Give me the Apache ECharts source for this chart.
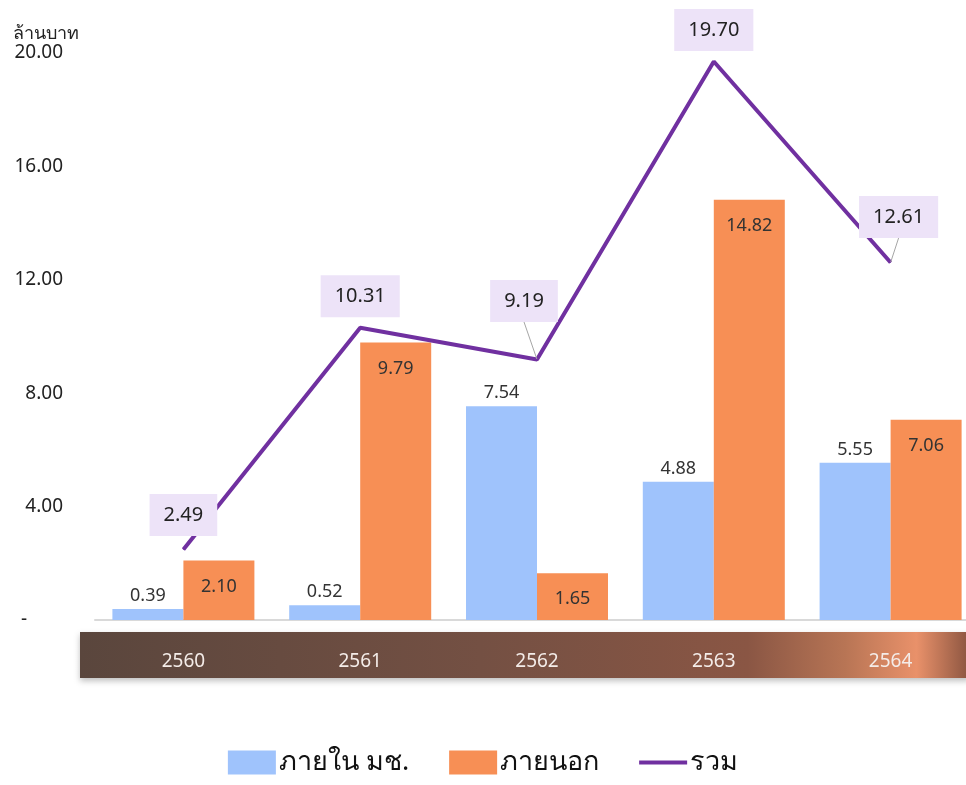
<!DOCTYPE html>
<html>
<head>
<meta charset="utf-8">
<script src="https://cdn.jsdelivr.net/npm/echarts@6/dist/echarts.min.js"></script>
<style>
  html, body { margin: 0; padding: 0; background: #ffffff; }
  #chart { width: 966px; height: 785px; }
</style>
</head>
<body>
<div id="chart"></div>
<script>
// Research funding by fiscal year (million baht)
const years = ['2560', '2561', '2562', '2563', '2564'];
const insideCMU = [0.39, 0.52, 7.54, 4.88, 5.55];   // ภายใน มช.
const outsideCMU = [2.10, 9.79, 1.65, 14.82, 7.06]; // ภายนอก
const totals = [2.49, 10.31, 9.19, 19.70, 12.61];   // รวม
const seriesNames = ['ภายใน มช.', 'ภายนอก', 'รวม'];
const unitLabel = 'ล้านบาท';

const FONT = '"Noto Sans", "DejaVu Sans", sans-serif';
const PURPLE = '#7030a0';

// nudges for the total labels that sit off-centre, with a guide line
const totalLabelShift = [[0, -3], [0, 0], [-13, -27], [0, 0], [8, -14]];
const guided = [false, false, true, false, true];

const chart = echarts.init(document.getElementById('chart'), null, { renderer: 'canvas' });

const option = {
  backgroundColor: '#ffffff',
  textStyle: { fontFamily: FONT },
  animation: false,
  title: {
    text: unitLabel,
    left: 8,
    top: 20,
    textStyle: { fontFamily: FONT, fontSize: 18, fontWeight: 'normal', color: '#222222' }
  },
  // the plot runs a little past the right edge of the canvas
  grid: { left: 95, width: 884, top: 53, bottom: 165, containLabel: false, outerBoundsMode: 'none' },
  graphic: [{
    type: 'rect',
    left: 80,
    top: 632,
    z: -1,
    shape: { width: 890, height: 46 },
    style: {
      fill: new echarts.graphic.LinearGradient(0, 0, 1, 0, [
        { offset: 0, color: '#5a463d' },
        { offset: 0.45, color: '#745043' },
        { offset: 0.75, color: '#8a5644' },
        { offset: 0.86, color: '#b87555' },
        { offset: 0.94, color: '#e9916a' },
        { offset: 1, color: '#8a5440' }
      ]),
      shadowBlur: 6,
      shadowOffsetY: 3,
      shadowColor: 'rgba(0,0,0,0.25)'
    }
  }],
  legend: {
    bottom: 4,
    left: 'center',
    itemWidth: 48,
    itemHeight: 24,
    itemGap: 40,
    textStyle: { fontFamily: FONT, fontSize: 27, color: '#111111', padding: [0, 0, 0, -2] },
    data: [
      { name: seriesNames[0], icon: 'rect' },
      { name: seriesNames[1], icon: 'rect' },
      { name: seriesNames[2], icon: 'path://M0,0 L48,0 L48,4 L0,4 Z', itemStyle: { color: PURPLE } }
    ]
  },
  xAxis: {
    type: 'category',
    data: years,
    axisLine: { show: true, lineStyle: { color: '#d9d9d9', width: 2 } },
    axisTick: { show: false },
    axisLabel: { margin: 32, fontSize: 19, color: '#f4ece8', fontFamily: FONT }
  },
  yAxis: {
    type: 'value',
    min: 0,
    max: 20,
    interval: 4,
    splitLine: { show: false },
    axisLine: { show: false },
    axisTick: { show: false },
    axisLabel: {
      margin: 32,
      fontSize: 19,
      color: '#222222',
      fontFamily: FONT,
      formatter: v => v === 0 ? '{z|-}' : v.toFixed(2),
      rich: { z: { fontSize: 19, color: '#222222', padding: [0, 36, 0, 0] } }
    }
  },
  series: [
    {
      name: seriesNames[0],
      type: 'bar',
      data: insideCMU,
      barWidth: 71,
      barGap: '0%',
      itemStyle: { color: '#9fc3fc' },
      label: {
        show: true,
        position: 'top',
        distance: 4,
        fontSize: 18,
        color: '#333333',
        fontFamily: FONT,
        formatter: p => p.value.toFixed(2)
      }
    },
    {
      name: seriesNames[1],
      type: 'bar',
      data: outsideCMU,
      barWidth: 71,
      barGap: '0%',
      itemStyle: { color: '#f78f55' },
      label: {
        show: true,
        position: 'insideTop',
        distance: 17,
        fontSize: 18,
        color: '#333333',
        fontFamily: FONT,
        formatter: p => p.value.toFixed(2)
      }
    },
    {
      name: seriesNames[2],
      type: 'line',
      data: totals.map((v, i) => ({
        value: v,
        labelLine: { show: guided[i], lineStyle: { color: '#a6a6a6', width: 1 } }
      })),
      symbol: 'circle',
      symbolSize: 1,
      showSymbol: true,
      lineStyle: { color: PURPLE, width: 4 },
      itemStyle: { color: PURPLE },
      z: 5,
      label: {
        show: true,
        position: 'top',
        distance: 10,
        fontSize: 20,
        color: '#222222',
        fontFamily: FONT,
        backgroundColor: '#ede3f8',
        padding: [11, 14],
        formatter: p => p.value.toFixed(2)
      },
      labelLine: { show: false, lineStyle: { color: '#a6a6a6', width: 1 } },
      labelLayout: p => ({ dx: totalLabelShift[p.dataIndex][0], dy: totalLabelShift[p.dataIndex][1] })
    }
  ]
};

chart.setOption(option);
</script>
</body>
</html>
